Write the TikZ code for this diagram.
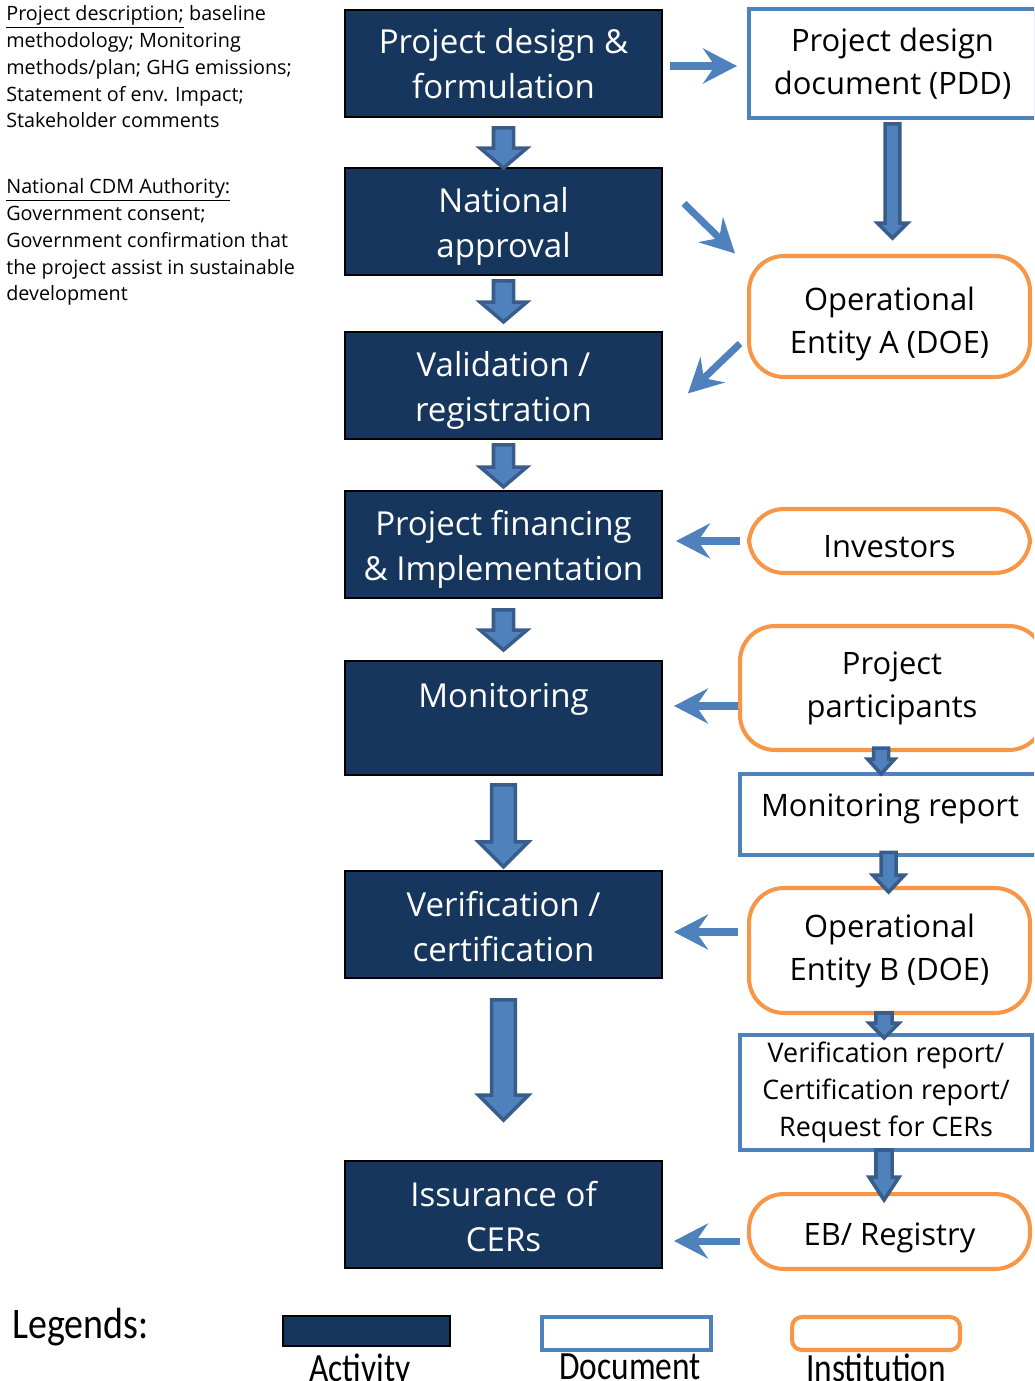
\documentclass[tikz,border=0pt]{standalone}
\usepackage{fontspec}
\setmainfont{Open Sans}
\newfontfamily\legendfont{Carlito}
\usepackage{tikz}
\usetikzlibrary{arrows.meta, positioning, calc}
\definecolor{actblue}{RGB}{23,54,93}
\definecolor{docblue}{RGB}{79,129,189}
\definecolor{instorange}{RGB}{247,150,70}
\definecolor{arrblue}{RGB}{79,129,189}
\definecolor{arredge}{RGB}{56,93,138}
\tikzset{
  activity/.style={rectangle, draw=black, fill=actblue, text=white,
    minimum width=6.34cm, minimum height=2.14cm, align=center, outer sep=0pt,
    font=\fontsize{18.8}{26}\selectfont, line width=0.9pt, inner sep=0pt},
  document/.style={rectangle, draw=docblue, fill=white, outer sep=0pt,
    align=center, font=\fontsize{17.6}{24.5}\selectfont, line width=2.3pt, inner sep=0pt},
  institution/.style={rectangle, draw=instorange, fill=white, rounded corners=0.7cm, outer sep=0pt,
    align=center, font=\fontsize{17.6}{24.5}\selectfont, line width=2.3pt, inner sep=0pt},
  note/.style={align=left, font=\fontsize{11.25}{15.3}\selectfont, inner sep=0pt, anchor=north west},
  legendtext/.style={font=\legendfont\fontsize{19}{22}\selectfont, inner sep=0pt},
  thinarr/.style={-{Stealth[length=0.68cm, width=0.7cm, inset=0.24cm]}, line width=4pt, draw=arrblue},
  fatarr/.style={fill=arrblue, draw=arredge, line width=2pt, line join=miter}
}
% move a line of text down without changing the node size
\newcommand{\lowerline}[2]{\raisebox{-#1}[\height][\depth]{#2}}
% vertical block arrow: from, to, half shaft, half head, head length
\newcommand{\blockarrow}[5]{%
  \filldraw[fatarr] let \p1=#1, \p2=#2 in
    (\x1-#3,\y1) -- (\x1+#3,\y1) -- (\x1+#3,\y2+#5) -- (\x1+#4,\y2+#5)
    -- (\x1,\y2) -- (\x1-#4,\y2+#5) -- (\x1-#3,\y2+#5) -- cycle;}

\begin{document}
\begin{tikzpicture}[x=0.02cm, y=-0.02cm]
\clip (0,0) rectangle (1034,1381);

% notes on the left
\node[note] (desc) at (6,5) {\underline{Project description;} baseline\\methodology; Monitoring\\methods/plan; GHG emissions;\\Statement of env. Impact;\\Stakeholder comments};
\node[note] (authority) at (6,178) {\underline{National CDM Authority:}\\Government consent;\\Government confirmation that\\the project assist in sustainable\\development};

% activities
\node[activity] (design) at (503.5,63.5) {Project design \&\\formulation};
\node[activity, below=1.02cm of design] (approval) {\lowerline{2.8pt}{National}\\\lowerline{2.8pt}{approval}};
\node[activity, below=1.14cm of approval] (validation) {\lowerline{2.8pt}{Validation /}\\\lowerline{2.8pt}{registration}};
\node[activity, below=1.04cm of validation] (financing) {\lowerline{2.8pt}{Project financing}\\\lowerline{2.8pt}{\& Implementation}};
\node[activity, below=1.26cm of financing, minimum height=2.28cm] (monitoring) {Monitoring\\\mbox{}};
\node[activity, below=1.92cm of monitoring] (verification) {\lowerline{1.2pt}{Verification /}\\\lowerline{1.2pt}{certification}};
\node[activity, below=3.66cm of verification] (issuance) {\lowerline{1.2pt}{Issurance of}\\\lowerline{1.2pt}{CERs}};

% documents and institutions
\node[document, minimum width=5.74cm, minimum height=2.18cm] (pdd) at (892.5,63.5) {Project design\\document (PDD)};
\node[institution, minimum width=5.62cm, minimum height=2.42cm] (oea) at (889.5,316.5) {\lowerline{4pt}{Operational}\\\lowerline{4pt}{Entity A (DOE)}};
\node[institution, minimum width=5.62cm, minimum height=1.28cm] (investors) at (889.5,541) {\lowerline{3.4pt}{Investors}};
\node[institution, minimum width=6.08cm, minimum height=2.48cm] (participants) at (892,688) {Project\\participants};
\node[document, minimum width=6.0cm, minimum height=1.62cm] (monreport) at (890,814.5) {\lowerline{-3.4pt}{Monitoring report}};
\node[institution, minimum width=5.62cm, minimum height=2.5cm] (oeb) at (889.5,950.5) {Operational\\Entity B (DOE)};
\node[document, minimum width=5.84cm, minimum height=2.3cm, font=\fontsize{15.3}{21}\selectfont] (verreport) at (886,1092.5) {Verification report/\\Certification report/\\Request for CERs};
\node[institution, minimum width=5.62cm, minimum height=1.5cm] (registry) at (889.5,1231.5) {\lowerline{3.4pt}{EB/ Registry}};

% block arrows down the activities
\blockarrow{([yshift=-6.2pt]design.south)}{(approval.north)}{5.7pt}{13.3pt}{11.3pt}
\blockarrow{([yshift=-3.4pt]approval.south)}{([yshift=5.7pt]validation.north)}{5.7pt}{13.3pt}{11.3pt}
\blockarrow{([yshift=-3.4pt]validation.south)}{([yshift=2.3pt]financing.north)}{5.7pt}{13.3pt}{11.3pt}
\blockarrow{([yshift=-6.8pt]financing.south)}{([yshift=6.2pt]monitoring.north)}{5.7pt}{13.3pt}{11.3pt}
\blockarrow{([yshift=-5.7pt]monitoring.south)}{([yshift=2.3pt]verification.north)}{6.8pt}{14.2pt}{14.2pt}
\blockarrow{([yshift=-12.5pt]verification.south)}{([yshift=23.2pt]issuance.north)}{6.8pt}{14.2pt}{14.2pt}

% block arrows on the right
\blockarrow{([yshift=-3.4pt]pdd.south)}{([yshift=10.2pt]oea.north)}{4.2pt}{8.5pt}{8.5pt}
\blockarrow{([xshift=-6.2pt,yshift=1pt]participants.south)}{([xshift=-5.1pt]monreport.north)}{4.3pt}{7.7pt}{8.5pt}
\blockarrow{([xshift=-0.8pt,yshift=1.5pt]monreport.south)}{([xshift=-0.8pt,yshift=-2.3pt]oeb.north)}{4.3pt}{9pt}{9.6pt}
\blockarrow{([xshift=-3.1pt]oeb.south)}{([xshift=-1.1pt,yshift=-1.7pt]verreport.north)}{4.6pt}{8.5pt}{8.5pt}
\blockarrow{([xshift=-1.1pt]verreport.south)}{([xshift=-3.1pt,yshift=-3.4pt]registry.north)}{4.6pt}{8.5pt}{13pt}

% thin arrows
\draw[thinarr] ($(design.east |- 0,66)+(8,0)$) -- ($(pdd.west |- 0,66)+(-12,0)$);
\draw[thinarr] ($(approval.east)+(22,-18)$) -- ($(oea.west)+(-14,-63)$);
\draw[thinarr] ($(oea.west)+(-9,27)$) -- ($(validation.east)+(26,8)$);
\draw[thinarr] ($(investors.west)+(-9,0)$) -- ($(financing.east |- investors.west)+(14,0)$);
\draw[thinarr] ($(participants.west |- 0,706)+(-2,0)$) -- ($(monitoring.east |- 0,706)+(12,0)$);
\draw[thinarr] ($(oeb.west |- 0,932)+(-11,0)$) -- ($(verification.east |- 0,932)+(12,0)$);
\draw[thinarr] ($(registry.west |- 0,1241)+(-9,0)$) -- ($(issuance.east |- 0,1241)+(12,0)$);

% legend
\node[legendtext, anchor=west, font=\legendfont\fontsize{21.6}{24}\selectfont] (legends) at (12,1327) {\scalebox{1}[1.15]{Legends:}};
\node[activity, minimum width=3.34cm, minimum height=0.6cm] (keyact) at (366.5,1331) {};
\node[document, minimum width=3.38cm, minimum height=0.66cm] (keydoc) at (626.5,1333.5) {};
\node[institution, minimum width=3.36cm, minimum height=0.66cm, rounded corners=0.2cm] (keyinst) at (876,1333.5) {};
\node[legendtext, anchor=north] (keyacttext) at (360,1353) {\scalebox{1}[1.2]{Activity}};
\node[legendtext, anchor=north] (keydoctext) at (630,1353) {\scalebox{1}[1.2]{Document}};
\node[legendtext, anchor=north] (keyinsttext) at (876,1353) {\scalebox{1}[1.2]{Institution}};
\end{tikzpicture}
\end{document}
